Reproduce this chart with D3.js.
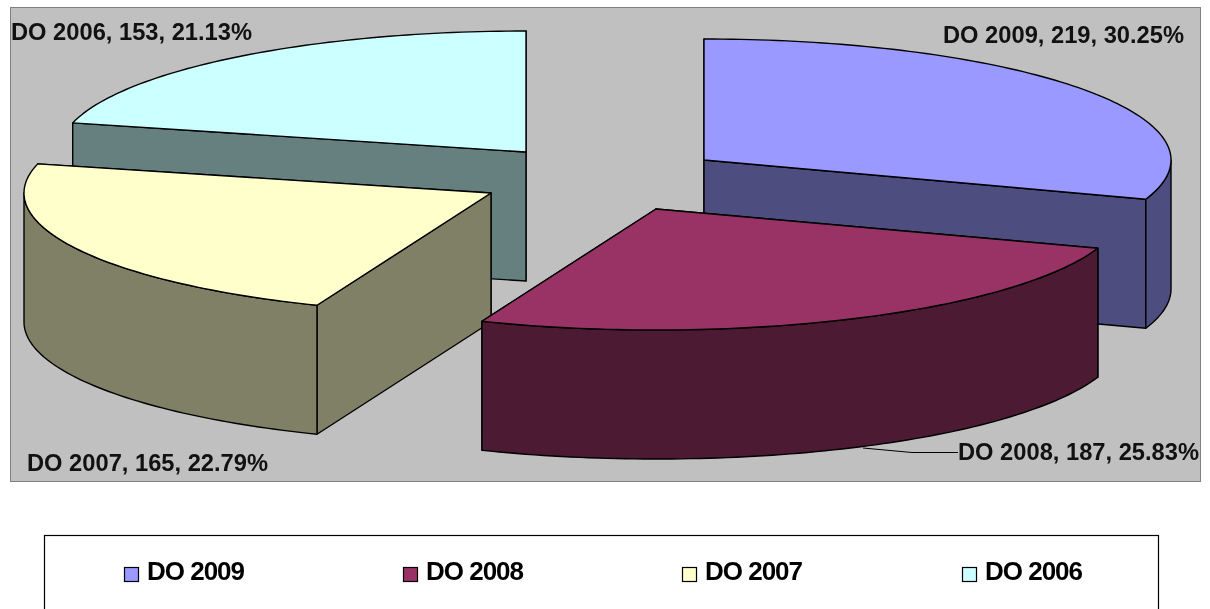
<!DOCTYPE html>
<html><head><meta charset="utf-8">
<script src="https://cdn.jsdelivr.net/npm/d3@7"></script>
<style>html,body{margin:0;padding:0;background:#fff}svg{display:block;filter:blur(0.45px)}
.lbl{font-family:"Liberation Sans",Arial,sans-serif;font-weight:bold;font-size:23px;fill:#111}
.leg{font-family:"Liberation Sans",Arial,sans-serif;font-weight:bold;font-size:26px;fill:#000}</style>
</head><body><svg id="c" width="1210" height="609"></svg>
<script>
const categories=["DO 2009","DO 2008","DO 2007","DO 2006"];
const values=[219,187,165,153];
const percents=["30.25","25.83","22.79","21.13"];
const topColors=["#9999FF","#993366","#FFFFCC","#CCFFFF"];
const sideColors=["#4D4D80","#4D1A33","#808066","#668080"];
// layout
const apexX=[704,656,491,526], apexY=[160,209,193,152];
const rx=467, ry=121, depth=129;
const labelPos=[[943,43],[958,460],[27,471],[11,40]];
const labelWidth=241;
const legendX=[124,403,682,962];
const legendTextWidth=98;
const drawOrder=[3,0,2,1];

const svg=d3.select("#c");
const pie=d3.pie().sort(null).value(d=>d).startAngle(0).endAngle(2*Math.PI);
const arcs=pie(values);
const sx=d3.scaleLinear().domain([-1,1]).range([-rx,rx]);
const sy=d3.scaleLinear().domain([-1,1]).range([-ry,ry]);
const pt=(i,a,dz=0)=>[apexX[i]+sx(Math.sin(a)),apexY[i]+sy(-Math.cos(a))+dz];
const steps=(a,b)=>{const n=Math.max(2,Math.ceil((b-a)/0.02));return d3.range(n+1).map(k=>a+(b-a)*k/n);};
const line=d3.line();

svg.append("rect").attr("x",10.5).attr("y",7.5).attr("width",1190).attr("height",474)
  .attr("fill","#C0C0C0").attr("stroke","#808080");

const g=svg.append("g").attr("stroke","#000").attr("stroke-width",1.4).attr("stroke-linejoin","round");
drawOrder.forEach(i=>{
  const {startAngle:s,endAngle:e}=arcs[i];
  const ax=apexX[i],ay=apexY[i];
  // radial walls, the one further back first
  [s,e].sort((a,b)=>Math.cos(b)-Math.cos(a)).forEach(a=>{
    const p=pt(i,a),q=pt(i,a,depth);
    g.append("path").attr("fill",sideColors[i])
     .attr("d",line([[ax,ay],p,q,[ax,ay+depth]])+"Z");
  });
  // outer rim (front half only)
  const r0=Math.max(s,Math.PI/2), r1=Math.min(e,3*Math.PI/2);
  if(r1>r0){
    const st=steps(r0,r1);
    const up=st.map(a=>pt(i,a)), dn=st.map(a=>pt(i,a,depth)).reverse();
    g.append("path").attr("fill",sideColors[i]).attr("d",line(up.concat(dn))+"Z");
  }
  // top face
  const topPts=[[ax,ay]].concat(steps(s,e).map(a=>pt(i,a)));
  g.append("path").attr("fill",topColors[i]).attr("d",line(topPts)+"Z");
});

// leader line
svg.append("path").attr("fill","none").attr("stroke","#000").attr("stroke-width",1)
  .attr("d",line([[863,448],[912,452.5],[958,452.5]]));

categories.forEach((c,i)=>{
  svg.append("text").attr("class","lbl").attr("x",labelPos[i][0]).attr("y",labelPos[i][1])
    .attr("textLength",labelWidth).attr("lengthAdjust","spacingAndGlyphs")
    .text(`${c}, ${values[i]}, ${percents[i]}%`);
});

svg.append("rect").attr("x",44.5).attr("y",535.5).attr("width",1114).attr("height",90)
  .attr("fill","#fff").attr("stroke","#000").attr("stroke-width",1.2);
categories.forEach((c,i)=>{
  svg.append("rect").attr("x",legendX[i]+.5).attr("y",567.5).attr("width",14).attr("height",14)
    .attr("fill",topColors[i]).attr("stroke","#000").attr("stroke-width",1.2);
  svg.append("text").attr("class","leg").attr("x",legendX[i]+23).attr("y",580)
    .attr("textLength",legendTextWidth).text(c);
});
</script></body></html>
